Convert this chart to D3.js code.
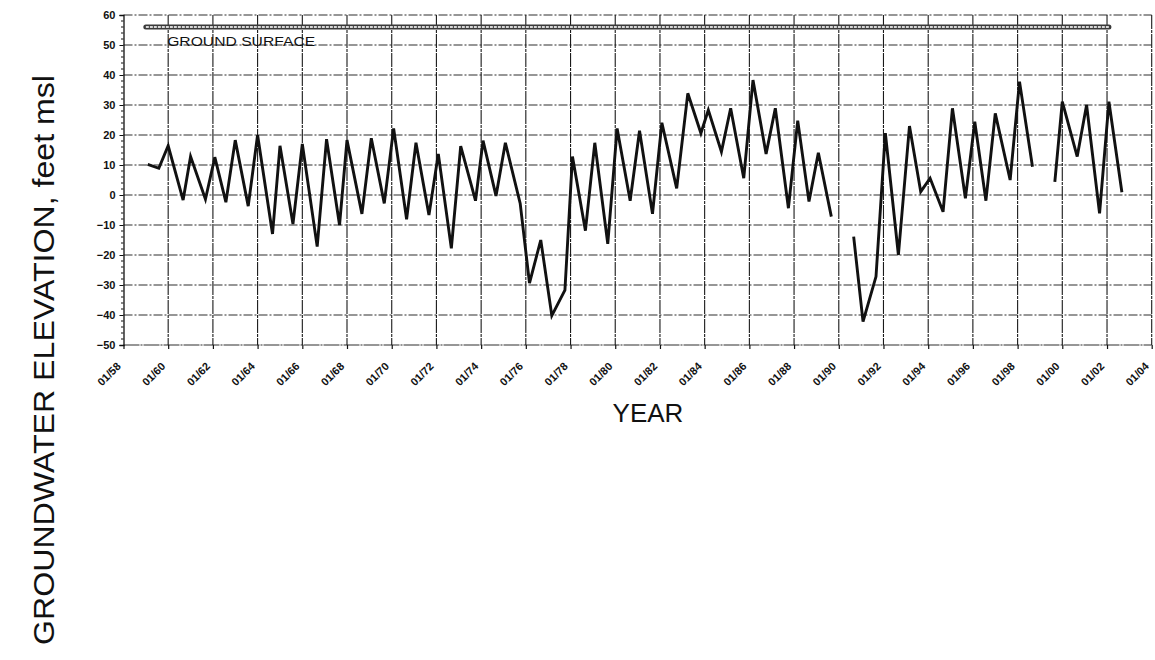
<!DOCTYPE html>
<html>
<head>
<meta charset="utf-8">
<script src="https://cdn.jsdelivr.net/npm/d3@7"></script>
<style>
  html, body { margin: 0; padding: 0; background: #fff; }
  svg { display: block; }
  text { font-family: "Liberation Sans", Arial, sans-serif; fill: #111; }
</style>
</head>
<body>
<svg id="chart" width="1155" height="660"></svg>
<script>
// Monitoring well hydrograph: spring highs and fall lows, with two data gaps.
const obsDates = [
  "1959-02","1959-08","1960-01","1960-09","1961-01","1961-09","1962-02","1962-08",
  "1963-01","1963-08","1964-01","1964-09","1965-01","1965-08","1966-01","1966-09",
  "1967-02","1967-09","1968-01","1968-09","1969-02","1969-09","1970-02","1970-09",
  "1971-02","1971-09","1972-02","1972-09","1973-02","1973-10","1974-02","1974-09",
  "1975-02","1975-10","1976-03","1976-09","1977-03","1977-10","1978-02","1978-09",
  "1979-02","1979-09","1980-02","1980-09","1981-02","1981-09","1982-02","1982-10",
  "1983-04","1983-11","1984-03","1984-10","1985-03","1985-10","1986-03","1986-10",
  "1987-03","1987-10","1988-03","1988-09","1989-02","1989-09",
  "1990-03",
  "1990-09","1991-02","1991-09","1992-02","1992-09","1993-03","1993-09","1994-02",
  "1994-09","1995-02","1995-09","1996-02","1996-08","1997-01","1997-09","1998-02",
  "1998-09",
  "1999-03",
  "1999-09","2000-01","2000-09","2001-02","2001-09","2002-02","2002-09"
];
const waterLevel = [
  10.2, 8.9, 16.4, -1.7, 12.8, -1.4, 12.6, -2.4,
  18.3, -3.7, 20.0, -13.0, 16.4, -9.7, 17.0, -17.2,
  18.6, -10.0, 18.3, -6.3, 18.9, -2.8, 22.2, -8.1,
  17.4, -6.7, 13.7, -17.8, 16.3, -1.9, 18.1, -0.3,
  17.4, -2.8, -29.4, -15.0, -40.2, -31.7, 12.8, -11.9,
  17.4, -16.3, 22.2, -1.9, 21.4, -6.3, 24.1, 2.2,
  33.9, 20.6, 28.3, 14.4, 28.9, 5.6, 38.3, 13.7,
  28.9, -4.4, 24.8, -2.2, 14.1, -7.2,
  null,
  -13.9, -42.2, -27.2, 20.6, -20.0, 23.0, 1.1, 5.6,
  -5.6, 28.9, -1.1, 24.4, -1.9, 27.2, 5.0, 37.8,
  9.4,
  null,
  4.4, 31.1, 12.8, 30.0, -6.1, 31.1, 0.9
];

// Ground surface reference elevation
const groundDates = ["1959-01", "2002-02"];
const groundLevel = [56, 56];
const groundLabel = "GROUND SURFACE";

const yTicks = [-50, -40, -30, -20, -10, 0, 10, 20, 30, 40, 50, 60];
const xTickYears = d3.range(1958, 2005, 2);
const xTitle = "YEAR";
const yTitle = "GROUNDWATER ELEVATION, feet msl";

const parse = d3.timeParse("%Y-%m");
const fmt = d3.timeFormat("%m/%y");

const svg = d3.select("#chart");
const plotL = 123.5, plotR = 1151.7, plotT = 15, plotB = 345;

const x = d3.scaleTime()
  .domain([new Date(1958, 0, 1), new Date(2004, 0, 1)])
  .range([plotL, plotR]);
const y = d3.scaleLinear().domain([-50, 60]).range([plotB, plotT]);

const xTickDates = xTickYears.map(yr => new Date(yr, 0, 1));

// Horizontal grid
svg.append("g")
  .selectAll("line")
  .data(yTicks)
  .join("line")
  .attr("x1", plotL).attr("x2", plotR)
  .attr("y1", d => y(d)).attr("y2", d => y(d))
  .attr("stroke", "#2e2e2e")
  .attr("stroke-width", 1.1)
  .attr("stroke-dasharray", d => d === -50 ? "16,1,2,1" : "9,2,2,2");

// Vertical grid
svg.append("g")
  .selectAll("line")
  .data(xTickDates.slice(1))
  .join("line")
  .attr("x1", d => x(d)).attr("x2", d => x(d))
  .attr("y1", plotT).attr("y2", plotB)
  .attr("stroke", "#1a1a1a")
  .attr("stroke-width", 1.1)
  .attr("stroke-dasharray", "14,1,3,1");

// Y axis
const yAxis = d3.axisLeft(y).tickValues(yTicks).tickSize(4).tickPadding(4);
const yg = svg.append("g").attr("transform", `translate(${plotL},0)`).call(yAxis);
yg.select(".domain").attr("stroke", "#111").attr("stroke-width", 1.3);
yg.selectAll(".tick line").attr("stroke", "#111");
yg.selectAll(".tick text")
  .attr("font-size", 11)
  .attr("font-weight", 600)
  .attr("font-family", "'Liberation Sans', Arial, sans-serif")
  .attr("fill", "#111");

// Minor ticks on the Y axis
svg.append("g")
  .selectAll("line")
  .data(d3.range(-50, 61, 2).filter(v => v % 10 !== 0))
  .join("line")
  .attr("x1", plotL - 2.5).attr("x2", plotL)
  .attr("y1", d => y(d)).attr("y2", d => y(d))
  .attr("stroke", "#111");

// X axis: tick marks from the axis, slanted labels placed with the same scale
const xAxis = d3.axisBottom(x).tickValues(xTickDates).tickSize(4).tickFormat("");
const xg = svg.append("g").attr("transform", `translate(0,${plotB})`).call(xAxis);
xg.select(".domain").remove();
xg.selectAll(".tick line").attr("stroke", "#111").attr("stroke-width", 1.2);

svg.append("g")
  .selectAll("text")
  .data(xTickDates)
  .join("text")
  .attr("transform", d => `translate(${x(d) - 2},${plotB + 22}) rotate(-45)`)
  .attr("text-anchor", "end")
  .attr("font-size", 11)
  .attr("font-weight", 600)
  .attr("fill", "#111")
  .text(d => fmt(d));

// Ground surface: hollow double line
const ground = groundDates.map((d, i) => ({ date: parse(d), v: groundLevel[i] }));
const gLine = d3.line().x(d => x(d.date)).y(d => y(d.v));
svg.append("path").datum(ground).attr("d", gLine)
  .attr("stroke", "#3a3a3a").attr("stroke-width", 5).attr("fill", "none")
  .attr("stroke-linecap", "round");
svg.append("path").datum(ground).attr("d", gLine)
  .attr("stroke", "#d8d8d8").attr("stroke-width", 2).attr("fill", "none")
  .attr("stroke-dasharray", "3,1");

svg.append("text")
  .attr("x", x(new Date(1960, 0, 1)) - 1)
  .attr("y", y(50) + 0.5)
  .attr("font-size", 13.5)
  .attr("textLength", 148)
  .attr("lengthAdjust", "spacingAndGlyphs")
  .attr("fill", "#222")
  .text(groundLabel);

// Hydrograph
const obs = obsDates.map((d, i) => ({ date: parse(d), v: waterLevel[i] }));
svg.append("path").datum(obs)
  .attr("d", d3.line()
    .defined(d => d.v !== null)
    .x(d => x(d.date))
    .y(d => y(d.v)))
  .attr("fill", "none")
  .attr("stroke", "#111")
  .attr("stroke-width", 2.9)
  .attr("stroke-linejoin", "miter");

// Axis titles
svg.append("text")
  .attr("x", 648).attr("y", 422)
  .attr("text-anchor", "middle")
  .attr("font-size", 26)
  .text(xTitle);

svg.append("text")
  .attr("transform", "translate(54,360) rotate(-90)")
  .attr("text-anchor", "middle")
  .attr("font-size", 29)
  .attr("textLength", 570)
  .attr("lengthAdjust", "spacingAndGlyphs")
  .text(yTitle);
</script>
</body>
</html>
